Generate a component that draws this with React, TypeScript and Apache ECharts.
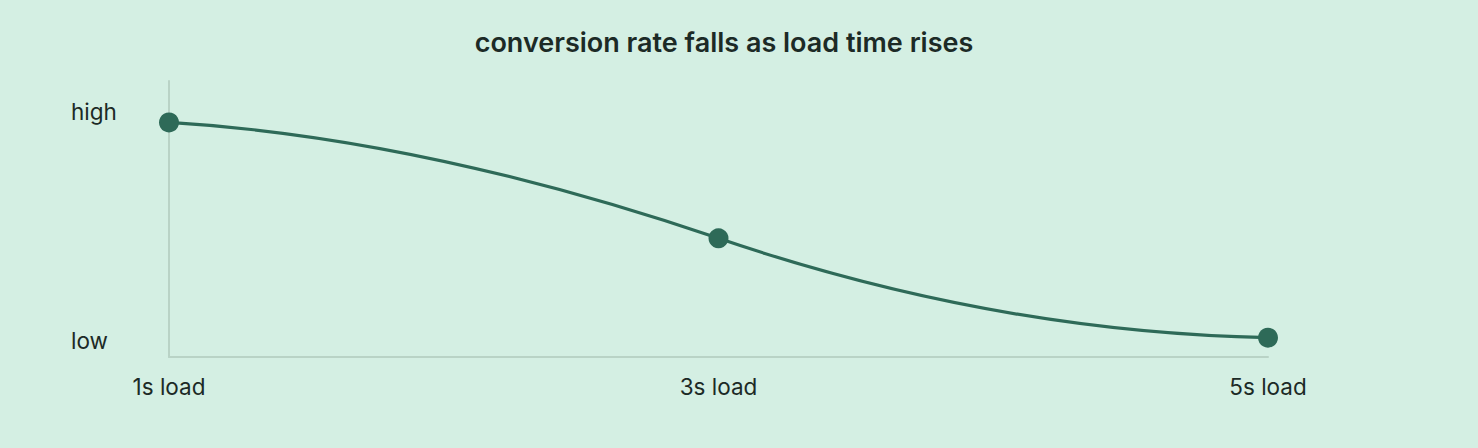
import { useRef, useEffect } from 'react'
import * as echarts from 'echarts'

const TITLE = 'conversion rate falls as load time rises'
const CATEGORIES = ['1s load', '3s load', '5s load']
const CONVERSION = [85, 43, 7]
const Y_TICK_VALUES = [6, 89]
const Y_TICK_LABELS = ['low', 'high']

// slope of the curve (px down per px right) at each point, gives the s-shape
const CURVE_SLOPES = [0.06, 0.34, 0.02]

const LINE_COLOR = '#2e6a58'
const AXIS_COLOR = '#b9d3c6'
const TEXT_COLOR = '#1c2a26'
const FONT = 'Inter, "Noto Sans", sans-serif'

function renderCurve(params: any, api: any) {
  if (params.dataIndex !== 0) return null
  const pts = CONVERSION.map((v, i) => api.coord([i, v]))
  const children = []
  for (let i = 0; i < pts.length - 1; i++) {
    const [x0, y0] = pts[i]
    const [x1, y1] = pts[i + 1]
    const dx = (x1 - x0) / 3
    children.push({
      type: 'bezierCurve',
      shape: {
        x1: x0,
        y1: y0,
        cpx1: x0 + dx,
        cpy1: y0 + CURVE_SLOPES[i] * dx,
        cpx2: x1 - dx,
        cpy2: y1 - CURVE_SLOPES[i + 1] * dx,
        x2: x1,
        y2: y1,
      },
      style: { stroke: LINE_COLOR, lineWidth: 3.2, fill: 'none', lineCap: 'round' },
    })
  }
  return { type: 'group', children }
}

function buildOption(): echarts.EChartsOption {
  return {
    backgroundColor: '#d4efe3',
    animation: false,
    title: {
      text: TITLE,
      left: 719,
      top: 24,
      textAlign: 'center',
      textStyle: { fontFamily: FONT, fontSize: 27, fontWeight: 600, color: TEXT_COLOR },
    },
    grid: { top: 81, bottom: 91, left: 169, right: 210, containLabel: false },
    xAxis: {
      type: 'category',
      data: CATEGORIES,
      boundaryGap: false,
      axisLine: { lineStyle: { color: AXIS_COLOR, width: 2 } },
      axisTick: { show: false },
      axisLabel: { fontFamily: FONT, fontSize: 22.5, color: TEXT_COLOR, margin: 18 },
      splitLine: { show: false },
    },
    yAxis: {
      type: 'value',
      min: 0,
      max: 100,
      axisLine: { show: true, lineStyle: { color: AXIS_COLOR, width: 2 } },
      axisTick: { show: false },
      splitLine: { show: false },
      axisLabel: {
        customValues: Y_TICK_VALUES,
        fontFamily: FONT,
        fontSize: 22.5,
        color: TEXT_COLOR,
        align: 'left',
        margin: 98,
        formatter: (v: number) => Y_TICK_LABELS[Y_TICK_VALUES.indexOf(v)] ?? '',
      },
    } as any,
    series: [
      {
        type: 'custom',
        renderItem: renderCurve as any,
        data: CONVERSION.map((v, i) => [i, v]),
        z: 2,
      },
      {
        type: 'scatter',
        data: CONVERSION,
        symbol: 'circle',
        symbolSize: 20,
        itemStyle: { color: LINE_COLOR, opacity: 1 },
        z: 3,
      },
    ],
  }
}

export default function App() {
  const ref = useRef<HTMLDivElement>(null)

  useEffect(() => {
    const el = ref.current
    if (!el) return
    const chart = echarts.init(el, null, { renderer: 'svg' })
    chart.setOption(buildOption())
    return () => chart.dispose()
  }, [])

  return (
    <div
      ref={ref}
      style={{ position: 'fixed', left: 0, top: 0, width: 1478, height: 448, background: '#d4efe3' }}
    />
  )
}
